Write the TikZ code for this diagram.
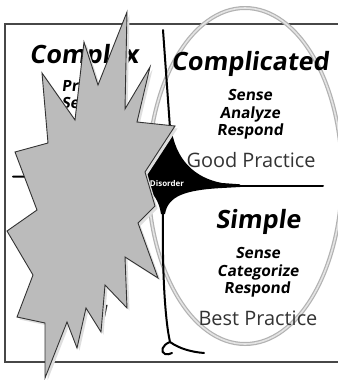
\documentclass[tikz,border=0pt]{standalone}
\usepackage{fontspec}
\setmainfont{Open Sans}
\newfontfamily\slantsans[FakeSlant=0.13]{Open Sans}
\definecolor{starfill}{RGB}{187,187,187}
\definecolor{starshadow}{RGB}{222,222,222}
\definecolor{ringouter}{RGB}{178,178,178}
\definecolor{ringinner}{RGB}{228,228,228}
\begin{document}
\begin{tikzpicture}[x=1bp,y=-1bp,
  frameline/.style={draw=black!72,line width=1.6bp},
  divider/.style={draw=black,line width=2bp,line cap=round},
  heading/.style={font=\slantsans\fontsize{25.3}{25}\selectfont\bfseries,anchor=base,inner sep=0},
  verb/.style={font=\slantsans\fontsize{15.5}{16}\selectfont\bfseries,anchor=base,inner sep=0},
  practice/.style={font=\fontsize{20}{20}\selectfont,text=black!80,anchor=base,inner sep=0},
  starshape/.style={insert path={(127,12) -- (125,109) -- (150,67) -- (137,122) -- (175,126)
     -- (145,172) -- (155,206) -- (138,223) -- (158,278) -- (125,257) -- (127,308)
     -- (105,285) -- (101,332) -- (86,308) -- (77,348) -- (67,322) -- (45,378)
     -- (45,323) -- (17,317) -- (33,275) -- (7,231) -- (37,210) -- (15,152)
     -- (48,143) -- (42,73) -- (75,120) -- (84,42) -- (98,85) -- cycle}},
]
\useasboundingbox (0,0) rectangle (338,380);
\fill[white] (0,0) rectangle (338,380);

% open frame
\draw[frameline] (338,24) -- (5,24) -- (5,362) -- (338,362);

% grey ring
\draw[draw=ringouter,line width=4bp] (245,176) ellipse [x radius=97,y radius=168];
\draw[draw=ringinner,line width=1.6bp] (245,176) ellipse [x radius=97,y radius=168];

% end points of the dividing lines
\coordinate (topEnd) at (163,30);
\coordinate (topJoin) at (170,128);
\coordinate (leftEnd) at (13,176.5);
\coordinate (leftJoin) at (130,178);
\coordinate (rightEnd) at (323,185.5);
\coordinate (rightJoin) at (200,185.5);
\coordinate (stemTop) at (163,210);
\coordinate (foot) at (170,342);
\coordinate (footRight) at (204,353);
\coordinate (curlEnd) at (172,353);

% central disorder area
\fill[black] (171,126) .. controls (175,160) and (195,178) .. (222,183)
  -- (240,184.3) -- (240,187) -- (222,188)
  .. controls (185,190) and (168,196) .. (165,214)
  -- (161,214)
  .. controls (158,195) and (148,184) .. (120,180)
  -- (120,175)
  .. controls (150,170) and (166,150) .. (167,126) -- cycle;

\draw[divider] (topEnd) -- (topJoin);
\draw[divider] (rightJoin) -- (rightEnd);
\draw[divider] (leftEnd) -- (leftJoin);
\draw[divider] (stemTop) .. controls (162,270) and (165,320) .. (foot);
\draw[divider] (foot) .. controls (180,349) and (192,352) .. (footRight);
\draw[divider] (foot) .. controls (162,345) and (160,352) .. (165,354)
  .. controls (167,355) and (170,354) .. (curlEnd);

\node[font=\fontsize{8}{8}\selectfont\bfseries,text=white,anchor=base,inner sep=0]
  (disorder) at (167,186) {Disorder};

% complicated domain
\node[heading] (complicated) at (250,70) {Complicated};
\node[verb] (c1) at (250,100) {Sense};
\node[verb] (c2) at (250,118) {Analyze};
\node[verb] (c3) at (250,135) {Respond};
\node[practice] (good) at (251,167) {Good Practice};

% simple domain
\node[heading] (simple) at (258,228) {Simple};
\node[verb] (s1) at (258,258) {Sense};
\node[verb] (s2) at (258,276) {Categorize};
\node[verb] (s3) at (257,293) {Respond};
\node[practice] (best) at (258,325) {Best Practice};

% complex domain
\node[heading] (complex) at (84,63) {Complex};
\node[verb] (x1) at (84,91) {Probe};
\node[verb] (x2) at (84,108) {Sense};

\node[font=\fontsize{20}{20}\selectfont\itshape,text=black!85,anchor=base,inner sep=0]
  (frag) at (105,320) {l};

% jagged burst with its shadow
\fill[starshadow,shift={(2.5,2.5)},starshape];
\filldraw[fill=starfill,draw=black!80,line width=0.9bp,starshape];
\end{tikzpicture}
\end{document}
